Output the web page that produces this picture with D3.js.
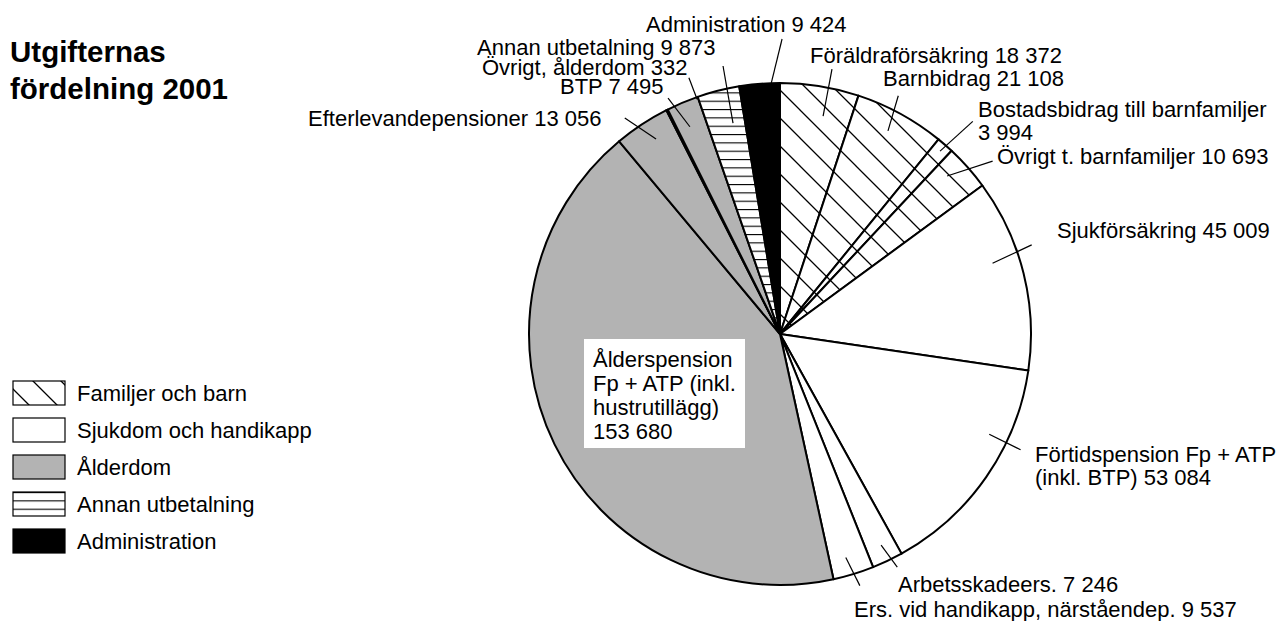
<!DOCTYPE html>
<html lang="sv">
<head>
<meta charset="UTF-8">
<script src="https://d3js.org/d3.v7.min.js"></script>
<title>Utgifternas fördelning 2001</title>
<style>
  body { margin: 0; background: #fff; }
  text { font-family: "Liberation Sans", Arial, Helvetica, sans-serif; fill: #000; }
</style>
</head>
<body>
<svg width="1287" height="621"></svg>
<script>
// slices, clockwise from 12 o'clock
const categories = [
  "Föräldraförsäkring", "Barnbidrag", "Bostadsbidrag till barnfamiljer",
  "Övrigt t. barnfamiljer", "Sjukförsäkring", "Förtidspension Fp + ATP (inkl. BTP)",
  "Arbetsskadeers.", "Ers. vid handikapp, närståendep.",
  "Ålderspension Fp + ATP (inkl. hustrutillägg)", "Efterlevandepensioner",
  "Övrigt, ålderdom", "BTP", "Annan utbetalning", "Administration"
];
const values = [18372, 21108, 3994, 10693, 45009, 53084, 7246, 9537, 153680, 13056, 332, 7495, 9873, 9424];
const groups = ["fam", "fam", "fam", "fam", "sjuk", "sjuk", "sjuk", "sjuk", "alder", "alder", "alder", "alder", "annan", "admin"];

const groupKeys = ["fam", "sjuk", "alder", "annan", "admin"];
const groupNames = ["Familjer och barn", "Sjukdom och handikapp", "Ålderdom", "Annan utbetalning", "Administration"];

const title = ["Utgifternas", "fördelning 2001"];

// label placement: text position, words per line, leader in polar coords (deg, radius)
const labelLayout = [
  { x: 810, y: 63, a1: 11.2, r1: 222, a2: 11.1, r2: 270 },
  { x: 883, y: 86, a1: 28.0, r1: 230, a2: 26.4, r2: 266 },
  { x: 978, y: 117, lines: [3, 2], a1: 41.2, r1: 243, a2: 42.2, r2: 287 },
  { x: 997, y: 164, a1: 46.6, r1: 230, a2: 50.9, r2: 274 },
  { x: 1057, y: 238, a1: 71.6, r1: 224, a2: 70.5, r2: 267 },
  { x: 1035, y: 462, lines: [4, 4], a1: 115.6, r1: 232, a2: 115.7, r2: 267 },
  { x: 898, y: 592, a1: 154.4, r1: 234, a2: 153.3, r2: 261 },
  { x: 854, y: 617, a1: 163.6, r1: 233, a2: 162.4, r2: 264 },
  { x: 593, y: 367, lines: [1, 4, 1, 2], box: [584, 339, 161, 109] },
  { x: 308, y: 126, a1: -32.45, r1: 231, a2: -35.7, r2: 266 },
  { x: 482, y: 75, a1: -19.45, r1: 249, a2: -19.57, r2: 272 },
  { x: 560, y: 94, a1: -23.5, r1: 226, a2: -25.4, r2: 261 },
  { x: 477, y: 55, a1: -12.56, r1: 216, a2: -12.0, r2: 274 },
  { x: 646, y: 32, a1: -2.06, r1: 250, a2: 0.4, r2: 295 }
];

const cx = 780, cy = 334, radius = 251;
const fontSize = 22, lineH = 23;

const svg = d3.select("svg");
const defs = svg.append("defs");

// diagonal hatch
const hatch = defs.append("pattern")
  .attr("id", "hatch-fam")
  .attr("patternUnits", "userSpaceOnUse")
  .attr("x", 20).attr("y", 0)
  .attr("width", 28).attr("height", 28);
hatch.append("rect").attr("width", 28).attr("height", 28).attr("fill", "#fff");
hatch.append("path")
  .attr("d", "M-7,-7L35,35M-7,21L7,35M21,-7L35,7")
  .attr("stroke", "#000").attr("stroke-width", 1.3);

// horizontal lines
const hlines = defs.append("pattern")
  .attr("id", "hatch-annan")
  .attr("patternUnits", "userSpaceOnUse")
  .attr("x", 0).attr("y", 0)
  .attr("width", 20).attr("height", 8.333);
hlines.append("rect").attr("width", 20).attr("height", 8.333).attr("fill", "#fff");
hlines.append("line")
  .attr("x1", 0).attr("x2", 20).attr("y1", 0.5).attr("y2", 0.5)
  .attr("stroke", "#000").attr("stroke-width", 1.2);

const fills = d3.scaleOrdinal()
  .domain(groupKeys)
  .range(["url(#hatch-fam)", "#fff", "#b3b3b3", "url(#hatch-annan)", "#000"]);

const fmt = d3.formatLocale({ decimal: ",", thousands: " ", grouping: [3], currency: ["", " kr"] }).format(",d");

// pie
const pie = d3.pie().sort(null).value(d => d);
const arcs = pie(values);
const arc = d3.arc().innerRadius(0).outerRadius(radius);

const g = svg.append("g").attr("transform", `translate(${cx},${cy})`);
g.selectAll("path.slice")
  .data(arcs)
  .join("path")
  .attr("class", "slice")
  .attr("d", arc)
  .attr("fill", (d, i) => fills(groups[i]))
  .attr("stroke", "#000")
  .attr("stroke-width", 2)
  .attr("stroke-linejoin", "round");

// leaders
const polar = (a, r) => {
  const t = a * Math.PI / 180;
  return [r * Math.sin(t), -r * Math.cos(t)];
};
g.selectAll("line.leader")
  .data(labelLayout.filter(d => d.a1 !== undefined))
  .join("line")
  .attr("class", "leader")
  .attr("x1", d => polar(d.a1, d.r1)[0])
  .attr("y1", d => polar(d.a1, d.r1)[1])
  .attr("x2", d => polar(d.a2, d.r2)[0])
  .attr("y2", d => polar(d.a2, d.r2)[1])
  .attr("stroke", "#000")
  .attr("stroke-width", 1.2);

// labels
labelLayout.forEach((L, i) => {
  const words = (categories[i] + " " + fmt(values[i])).split(" ");
  const counts = L.lines || [words.length];
  const lines = [];
  let k = 0;
  counts.forEach(n => { lines.push(words.slice(k, k + n).join(" ")); k += n; });
  if (L.box) {
    svg.append("rect")
      .attr("x", L.box[0]).attr("y", L.box[1])
      .attr("width", L.box[2]).attr("height", L.box[3])
      .attr("fill", "#fff");
  }
  const t = svg.append("text")
    .attr("x", L.x).attr("y", L.y)
    .attr("font-size", fontSize);
  lines.forEach((s, j) => {
    t.append("tspan")
      .attr("x", L.x)
      .attr("y", L.y + j * (L.box ? 24 : lineH))
      .text(s);
  });
});

// title
svg.append("text")
  .attr("x", 10).attr("y", 62)
  .attr("font-size", 29.5)
  .attr("font-weight", "bold")
  .selectAll("tspan")
  .data(title)
  .join("tspan")
  .attr("x", 10)
  .attr("y", (d, i) => 62 + i * 37)
  .text(d => d);

// legend
const legend = svg.append("g").attr("transform", "translate(13,381)");
const item = legend.selectAll("g")
  .data(groupKeys)
  .join("g")
  .attr("transform", (d, i) => `translate(0,${i * 37})`);
item.append("rect")
  .attr("width", 52).attr("height", 24)
  .attr("fill", d => fills(d))
  .attr("stroke", "#000")
  .attr("stroke-width", 1.2);
item.append("text")
  .attr("x", 64).attr("y", 20)
  .attr("font-size", fontSize)
  .text((d, i) => groupNames[i]);
</script>
</body>
</html>
